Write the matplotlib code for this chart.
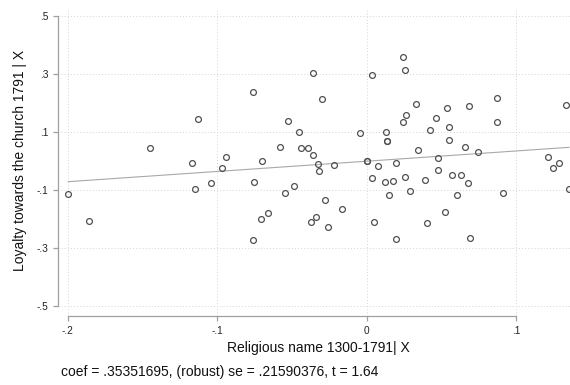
import matplotlib
matplotlib.use("Agg")
import matplotlib.pyplot as plt
import numpy as np

plt.rcParams['font.family'] = ['Liberation Sans', 'DejaVu Sans']

# residualised data
x_resid = [-0.1997, -0.1860, -0.1452, -0.1169, -0.1152, -0.1127, -0.1040, -0.0971, -0.0945,
           -0.0762, -0.0760, -0.0753, -0.0711, -0.0701, -0.0664, -0.0579, -0.0550, -0.0526,
           -0.0486, -0.0452, -0.0439, -0.0394, -0.0375, -0.0361, -0.0359, -0.0341, -0.0330,
           -0.0319, -0.0301, -0.0277, -0.0260, -0.0220, -0.0163, -0.0043, 0.0000, 0.0000,
           0.0034, 0.0035, 0.0047, 0.0077, 0.0120, 0.0129, 0.0132, 0.0132, 0.0148, 0.0178,
           0.0192, 0.0194, 0.0239, 0.0242, 0.0254, 0.0256, 0.0261, 0.0291, 0.0331, 0.0343,
           0.0389, 0.0403, 0.0420, 0.0465, 0.0476, 0.0478, 0.0520, 0.0536, 0.0548, 0.0550,
           0.0572, 0.0603, 0.0630, 0.0655, 0.0679, 0.0683, 0.0692, 0.0740, 0.0868, 0.0868,
           0.0908, 0.1213, 0.1246, 0.1285, 0.1333, 0.1351]
y_resid = [-0.1141, -0.2072, 0.0455, -0.0045, -0.0969, 0.1466, -0.0741, -0.0241, 0.0155,
           0.2397, -0.2707, -0.0734, -0.2000, -0.0003, -0.1797, 0.0497, -0.1086, 0.1393,
           -0.0848, 0.0997, 0.0462, 0.0472, -0.2103, 0.3052, 0.0207, -0.1941, -0.0107,
           -0.0345, 0.2155, -0.1321, -0.2279, -0.0121, -0.1655, 0.0966, 0.0000, 0.0000,
           -0.0579, 0.2979, -0.2107, -0.0169, -0.0721, 0.1017, 0.0703, 0.0703, -0.1176, -0.0683,
           -0.0062, -0.2693, 0.1352, 0.3603, 0.3162, -0.0534, 0.1583, -0.1017, 0.1972, 0.0376,
           -0.0638, -0.2131, 0.1066, 0.1490, -0.0297, 0.0121, -0.1762, 0.1841, 0.1179, 0.0741,
           -0.0476, -0.1166, -0.0483, 0.0479, -0.0762, 0.1914, -0.2638, 0.0324, 0.2190, 0.1341,
           -0.1097, 0.0145, -0.0245, -0.0052, 0.1928, -0.0945]

coef = 0.35351695
se = 0.21590376
tstat = 1.64

x_ticks = [-0.2, -0.1, 0.0, 0.1]
x_ticklabels = ["-.2", "-.1", "0", ".1"]
y_ticks = [-0.5, -0.3, -0.1, 0.1, 0.3, 0.5]
y_ticklabels = ["-.5", "-.3", "-.1", ".1", ".3", ".5"]

x_title = "Religious name 1300-1791| X"
y_title = "Loyalty towards the church 1791 | X"
note = "coef = .35351695, (robust) se = .21590376, t = 1.64"

W, H = 570, 385
fig = plt.figure(figsize=(W / 100, H / 100), dpi=100)
fig.patch.set_facecolor('white')

left_px, right_px, top_px, bottom_px = 58.3, 570, 8, 315.7
ax = fig.add_axes([left_px / W, 1 - bottom_px / H, (right_px - left_px) / W, (bottom_px - top_px) / H])
ax.set_xlim(-0.20628, 0.1358)
ax.set_ylim(-0.5328, 0.5283)

grid_c = '#d4d4d4'
for xt in x_ticks:
    ax.axvline(xt, color=grid_c, lw=0.7, ls=(0, (1, 2.2)), zorder=0)
for yt in y_ticks:
    ax.axhline(yt, color=grid_c, lw=0.7, ls=(0, (1, 2.2)), zorder=0)

xs = np.array(x_resid)
ys = np.array(y_resid)
ax.plot(xs, ys, ls='none', marker='o', markersize=4.2, mfc='none', mec='#505050', mew=0.9, zorder=3)

xl = np.array([xs.min(), xs.max()])
ax.plot(xl, coef * xl, color='#a8a8a8', lw=0.8, zorder=2)

for s in ['top', 'right']:
    ax.spines[s].set_visible(False)
ax.spines['left'].set_bounds(-0.5, 0.5)
ax.spines['bottom'].set_bounds(-0.2, 0.1)
for s in ['left', 'bottom']:
    ax.spines[s].set_color('#a0a0a0')
    ax.spines[s].set_linewidth(0.9)

ax.set_xticks(x_ticks)
ax.set_xticklabels(x_ticklabels)
ax.set_yticks(y_ticks)
ax.set_yticklabels(y_ticklabels)
ax.tick_params(axis='both', colors='#a0a0a0', labelcolor='#222222', labelsize=7.3, length=3.6, width=0.9)
ax.tick_params(axis='x', pad=4.0)
ax.tick_params(axis='y', pad=3.6)

fig.text(318 / W, 1 - 348.3 / H, x_title, ha='center', va='center', fontsize=10, color='#111111')
fig.text(20 / W, 1 - 160 / H, y_title, ha='center', va='center', rotation=90, fontsize=10, color='#111111')
fig.text(61 / W, 1 - 371.7 / H, note, ha='left', va='center', fontsize=10, color='#111111')

fig.savefig('out.png', dpi=100, facecolor='white')
